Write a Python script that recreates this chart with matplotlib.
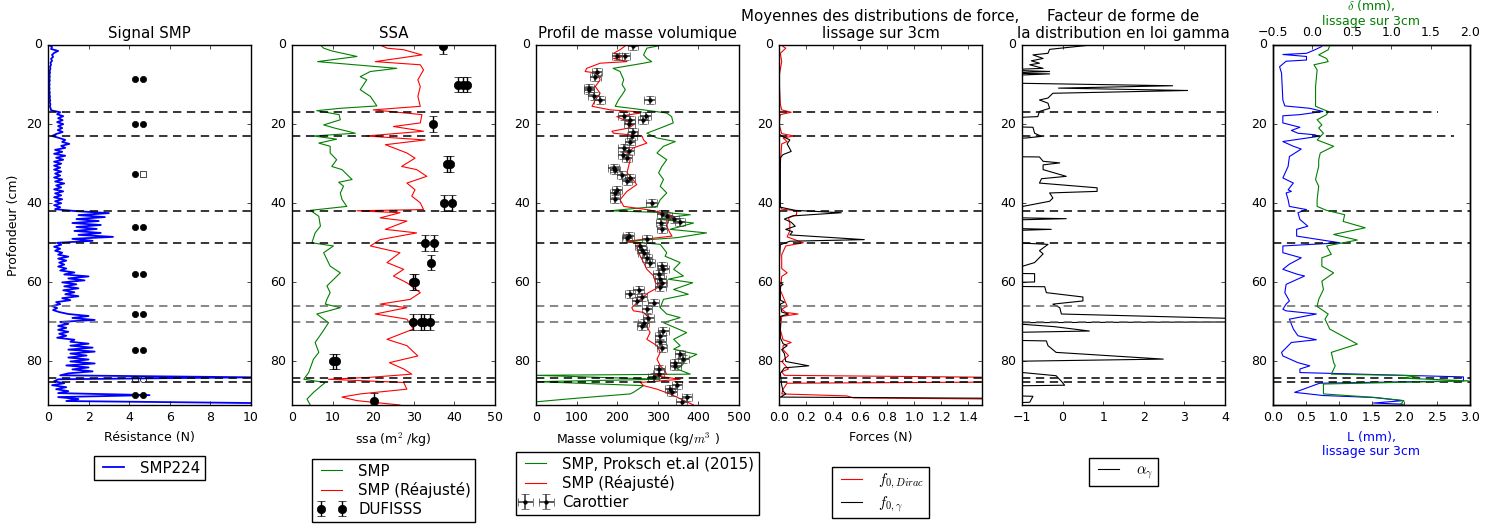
import matplotlib
matplotlib.use('Agg')
import matplotlib.pyplot as plt
import numpy as np

plt.style.use('classic')
plt.rcParams['figure.facecolor'] = 'white'
plt.rcParams['savefig.facecolor'] = 'white'
plt.rcParams['font.size'] = 9
plt.rcParams['lines.linewidth'] = 0.8
plt.rcParams['xtick.major.size'] = 3
plt.rcParams['ytick.major.size'] = 3
plt.rcParams['xtick.minor.size'] = 0
plt.rcParams['ytick.minor.size'] = 0
plt.rcParams['legend.labelspacing'] = 0.25
plt.rcParams['legend.borderpad'] = 0.3
plt.rcParams['legend.borderaxespad'] = 0.0

# ---------------- data ----------------
# layer boundaries (cm)
layers_black = [17, 23, 42, 50, 84.2, 85.2]
layers_grey = [66, 70]

# SMP signal, one value every 0.5 cm from 0 to 90.5 cm
smp_depth = np.arange(0, 91, 0.5)
smp_force = [
    0.05, 0.2, 0.15, 0.5, 0.3, 0.2, 0.25, 0.15, 0.2, 0.12,
    0.15, 0.1, 0.12, 0.08, 0.1, 0.07, 0.09, 0.07, 0.09, 0.06,
    0.08, 0.06, 0.08, 0.06, 0.09, 0.07, 0.1, 0.08, 0.11, 0.08,
    0.12, 0.09, 0.13, 0.15, 0.6, 0.45, 0.75, 0.5, 0.72, 0.45,
    0.75, 0.5, 0.7, 0.48, 0.72, 0.4, 0.2, 0.55, 0.85, 0.7,
    1.05, 0.65, 0.85, 0.35, 0.7, 0.3, 0.85, 0.4, 0.75, 0.3,
    0.65, 0.3, 0.6, 0.3, 0.65, 0.35, 0.6, 0.3, 0.7, 0.35,
    0.8, 0.4, 0.65, 0.3, 0.75, 0.35, 0.65, 0.3, 0.7, 0.35,
    0.65, 0.3, 0.6, 0.35, 1.4, 3.0, 1.5, 2.8, 1.4, 2.5,
    1.2, 2.6, 1.4, 2.4, 1.3, 2.6, 1.5, 3.2, 1.2, 2.2,
    0.45, 0.65, 0.3, 0.6, 0.35, 0.7, 0.5, 1.0, 0.5, 0.9,
    0.55, 0.8, 0.5, 0.9, 0.6, 1.3, 0.8, 2.0, 1.0, 1.8,
    0.7, 1.4, 0.8, 1.5, 0.75, 1.3, 0.85, 1.5, 0.7, 1.1,
    0.4, 0.6, 0.2, 0.45, 0.25, 0.55, 1.0, 2.0, 1.2, 2.3,
    0.6, 1.0, 0.5, 0.9, 0.5, 1.0, 0.55, 0.9, 0.45, 1.3,
    1.1, 2.0, 1.1, 2.2, 1.0, 2.3, 1.1, 1.9, 1.0, 2.0,
    1.1, 2.3, 0.9, 2.0, 1.2, 2.2, 1.0, 0.6, 10.0, 0.5,
    0.3, 0.8, 0.2, 0.9, 0.4, 1.0, 0.5, 5.0, 0.5, 1.5,
    0.9, 10.0]

# symbols drawn in the SMP panel
sym_filled_depth_a = [8.5, 20, 32.5, 46, 58, 68, 77, 88.5]
sym_filled_depth_b = [8.5, 20, 46, 58, 68, 77, 88.5]
sym_square_depth = [32.5]
sym_open_depth = [84.5]
sym_x_a = 4.3
sym_x_b = 4.7

# SSA
ssa_smp_depth = [0, 0.8, 1.5, 2.9, 4.2, 5.9, 6.7, 8.0, 8.8, 11.3,
                 13.0, 15.4, 16.0, 16.6, 17.6, 18.9, 20.2, 21.0, 22.3, 23.0,
                 23.8, 24.8, 25.6, 27.3, 29.0, 30.7, 31.5, 34.0, 34.7, 35.7,
                 37.4, 39.0, 40.8, 41.8, 43.3, 45.8, 47.5, 50.0, 50.8, 52.5,
                 55.9, 57.6, 60.9, 62.6, 64.3, 65.5, 66.4, 68.0, 70.2, 72.7,
                 75.2, 77.7, 79.4, 82.8, 84.5, 85.3, 87.8, 89.5, 91]
ssa_smp = [7.0, 7.8, 9.8, 16.0, 6.3, 25.8, 19.3, 16.8, 18.4, 16.8,
           19.3, 20.9, 11.9, 6.1, 11.6, 11.9, 7.8, 10.5, 15.6, 5.3,
           11.0, 6.6, 9.4, 9.4, 11.0, 9.8, 12.3, 14.8, 11.5, 12.7,
           11.9, 12.3, 13.5, 4.5, 6.6, 7.0, 5.7, 4.9, 10.2, 7.8,
           9.4, 11.9, 8.6, 9.4, 8.6, 8.2, 11.9, 6.1, 9.0, 7.4,
           5.7, 6.6, 5.3, 4.1, 2.9, 8.2, 5.3, 3.7, 4.5]
ssa_adj_depth = [0, 0.8, 1.2, 2.5, 4.2, 5.0, 6.3, 8.8, 10.5, 13.0,
                 15.5, 16.4, 17.6, 19.7, 20.6, 21.8, 23.0, 24.0, 25.2, 27.3,
                 28.6, 30.7, 31.5, 33.2, 34.9, 36.6, 38.2, 39.9, 41.6, 41.9,
                 42.4, 43.7, 44.5, 46.6, 47.5, 49.2, 50.8, 52.5, 55.0, 56.7,
                 58.4, 60.1, 62.6, 64.3, 65.5, 66.4, 68.0, 69.3, 71.8, 74.4,
                 76.0, 78.6, 80.3, 81.9, 83.2, 84.0, 84.5, 85.3, 87.0, 88.2,
                 89.0, 89.9, 91]
ssa_adj = [21.7, 23.4, 27.5, 32.0, 20.5, 31.6, 32.4, 31.0, 31.6, 31.0,
           31.6, 20.0, 32.0, 31.6, 25.0, 32.4, 18.3, 32.8, 23.0, 28.3,
           30.3, 27.0, 30.7, 33.2, 28.3, 30.3, 29.5, 31.6, 32.4, 16.0,
           26.6, 21.7, 28.3, 23.0, 30.7, 21.7, 19.3, 26.6, 23.4, 27.5,
           25.0, 28.3, 31.6, 29.1, 21.7, 28.3, 20.5, 28.3, 29.9, 23.4,
           28.3, 31.0, 24.0, 27.5, 29.5, 19.3, 9.0, 27.5, 28.3, 16.8,
           12.3, 16.0, 26.6]
dufisss_depth = [0.3, 10, 10, 10, 20, 30, 30, 40, 40, 50, 50, 55,
                 60, 60, 70, 70, 70, 70, 80, 80, 90]
dufisss_ssa = [37.1, 41.0, 42.0, 43.0, 34.8, 38.2, 38.8, 37.5, 39.4, 32.8, 35.0, 34.3,
               29.8, 30.2, 29.7, 31.8, 32.4, 34.0, 10.2, 10.9, 20.1]
dufisss_err = 2.0

# density
rho_smp_depth = [0.2, 0.8, 2.5, 3.4, 4.2, 4.6, 5.9, 6.7, 8.8, 10.0,
                 11.3, 12.6, 13.9, 15.5, 16.4, 17.2, 18.1, 19.7, 21.0, 22.3,
                 23.5, 24.4, 25.6, 27.3, 29.0, 30.7, 32.3, 34.0, 35.7, 37.4,
                 39.1, 40.8, 41.9, 42.4, 42.9, 44.0, 45.0, 46.6, 47.5, 48.7,
                 49.6, 50.4, 52.5, 53.4, 55.0, 56.7, 58.4, 59.2, 60.1, 61.8,
                 63.0, 64.3, 66.4, 68.0, 68.9, 70.2, 72.7, 74.4, 76.0, 76.9,
                 78.2, 79.4, 81.1, 81.9, 83.2, 83.5, 84.5, 85.1, 86.1, 87.8,
                 88.2, 88.8, 89.5, 90.2, 91]
rho_smp = [302, 273, 265, 273, 285, 265, 190, 207, 216, 212,
           220, 212, 203, 195, 265, 322, 334, 338, 306, 273,
           298, 343, 314, 298, 322, 310, 302, 314, 306, 322,
           306, 298, 183, 322, 380, 298, 388, 330, 420, 347,
           224, 306, 322, 318, 355, 339, 363, 326, 386, 339,
           375, 314, 306, 322, 355, 314, 371, 339, 355, 339,
           396, 371, 359, 347, 380, 0, 306, 0, 265, 240,
           232, 158, 76, 0, 0]
rho_adj_depth = [0.2, 1.2, 2.1, 2.9, 3.4, 4.2, 4.6, 5.9, 6.7, 7.1,
                 8.8, 10.5, 12.2, 13.9, 15.5, 16.4, 16.8, 17.2, 18.1, 19.3,
                 20.2, 21.0, 21.8, 22.3, 23.0, 24.0, 24.8, 26.0, 27.3, 29.0,
                 30.7, 32.3, 33.6, 35.3, 37.0, 39.1, 40.8, 41.6, 42.4, 43.3,
                 44.1, 45.8, 47.5, 48.3, 49.6, 50.4, 51.3, 53.4, 55.0, 56.7,
                 58.4, 60.1, 61.0, 62.6, 64.3, 66.4, 67.2, 67.6, 69.3, 71.0,
                 72.7, 74.4, 76.0, 77.7, 79.4, 81.1, 81.9, 83.2, 83.6, 84.5,
                 84.9, 85.3, 86.1, 87.0, 88.2, 91]
rho_adj = [220, 207, 191, 216, 191, 224, 158, 125, 121, 150,
           158, 146, 158, 146, 138, 183, 240, 257, 199, 224,
           240, 228, 187, 191, 261, 265, 273, 240, 224, 232,
           228, 224, 236, 248, 224, 207, 216, 273, 314, 339,
           326, 322, 330, 335, 224, 257, 248, 257, 265, 273,
           290, 294, 306, 277, 257, 236, 240, 265, 281, 273,
           281, 273, 298, 306, 298, 306, 314, 322, 294, 355,
           306, 257, 265, 298, 330, 388]
carot_depth = [0.3, 2.9, 2.9, 6.7, 8.2, 10.9, 11.3, 13.0, 14.0, 13.9,
               17.9, 17.9, 18.9, 18.9, 19.9, 22.1, 23.1, 24.4, 26.0, 26.9,
               27.7, 28.6, 31.1, 31.7, 32.8, 33.6, 34.5, 36.6, 37.4, 38.9,
               39.9, 42.7, 43.1, 44.1, 44.8, 45.1, 46.5, 48.3, 48.7, 49.0,
               50.8, 51.7, 52.7, 53.8, 55.0, 55.9, 56.7, 58.0, 59.1, 60.1,
               61.1, 61.9, 63.0, 63.6, 64.7, 65.1, 66.8, 68.9, 70.2, 71.0,
               72.3, 73.5, 75.2, 76.5, 78.2, 79.4, 80.3, 81.1, 81.9, 83.2,
               84.0, 86.0, 87.0, 87.8, 89.1, 90.3]
carot_rho = [239, 199, 218, 150, 146, 130, 130, 142, 157, 280,
             216, 270, 263, 232, 230, 239, 236, 232, 216, 228,
             214, 224, 191, 195, 212, 232, 224, 199, 195, 195,
             285, 310, 322, 339, 355, 308, 310, 228, 224, 273,
             257, 261, 265, 273, 281, 310, 314, 302, 306, 310,
             306, 253, 232, 261, 249, 290, 273, 277, 265, 261,
             314, 306, 306, 310, 355, 363, 343, 343, 304, 302,
             290, 347, 330, 335, 372, 359]
carot_rho_err = 13
carot_depth_err = 1

# mean forces
f_dirac_depth = [0, 0.4, 0.8, 2.1, 4.2, 8, 15, 16.4, 17.0, 17.6,
                 20, 22.4, 23.0, 23.5, 24.4, 25.0, 30, 40, 41.5, 41.9,
                 42.9, 43.7, 45.0, 47.0, 48.5, 50.0, 50.8, 53, 56.5, 57.6,
                 58.5, 62, 66.0, 66.8, 67.6, 68.0, 68.6, 72, 74.5, 75.2,
                 76.0, 77.0, 78.5, 80, 81.9, 82.6, 83.5, 84.0, 85.2, 85.5,
                 87, 88.2, 88.7, 89.2, 89.5, 91]
f_dirac = [0.02, 0.03, 0.05, 0.01, 0.02, 0.0, 0.01, 0.02, 0.09, 0.01,
           0.0, 0.02, 0.11, 0.03, 0.06, 0.02, 0.01, 0.0, 0.02, 0.13,
           0.13, 0.07, 0.08, 0.08, 0.06, 0.18, 0.05, 0.02, 0.02, 0.06,
           0.02, 0.01, 0.06, 0.02, 0.05, 0.14, 0.02, 0.01, 0.03, 0.09,
           0.03, 0.03, 0.07, 0.02, 0.07, 0.02, 0.04, 1.6, 1.6, 0.06,
           0.03, 0.02, 0.5, 0.55, 1.6, 1.6]
f_gamma_depth = [0, 10, 22.5, 23.0, 24.0, 25.0, 25.6, 26.9, 27.7, 28.5,
                 41.0, 41.8, 42.4, 43.2, 44.0, 44.8, 45.8, 46.6, 47.2, 48.0,
                 49.2, 49.6, 50.5, 56, 60.0, 60.5, 61, 64.5, 65, 65.5,
                 67.5, 68.0, 68.6, 74, 75.5, 76, 77.0, 78, 80.0, 81.1,
                 81.6, 83, 86, 87.5, 88.2, 89.0, 89.3, 90.6, 91]
f_gamma = [0.0, 0.0, 0.0, 0.02, 0.08, 0.06, 0.07, 0.09, 0.03, 0.01,
           0.01, 0.12, 0.46, 0.1, 0.04, 0.09, 0.12, 0.05, 0.1, 0.08,
           0.63, 0.08, 0.01, 0.0, 0.0, 0.03, 0.01, 0.01, 0.04, 0.01,
           0.02, 0.07, 0.01, 0.01, 0.03, 0.06, 0.02, 0.04, 0.05, 0.22,
           0.04, 0.01, 0.02, 0.03, 0.05, 0.01, 1.6, 1.6, 1.6]

# gamma shape factor (values below -1 fall outside the axis)
alpha_depth = [0.0, 1.1, 2.1, 2.5, 3.4, 4.0, 4.6, 5.0, 5.9, 6.3,
               6.7, 7.1, 7.3, 7.8, 9.6, 10.3, 10.9, 11.5, 12.2, 13.4,
               13.9, 14.7, 16.0, 16.8, 18.1, 18.5, 20.6, 20.8, 22.3, 23.1,
               23.5, 23.8, 28.2, 28.3, 29.4, 29.8, 30.3, 31.5, 33.2, 33.8,
               34.9, 36.1, 37.0, 37.4, 38.0, 38.7, 39.5, 40.8, 41.0, 43.6,
               43.9, 44.3, 46.3, 46.6, 47.0, 49.8, 50.4, 52.0, 52.8, 55.0,
               55.9, 56.1, 57.7, 57.8, 59.9, 60.1, 61.0, 61.1, 62.6, 63.7,
               64.7, 65.5, 66.4, 68.0, 69.2, 70.0, 70.2, 71.2, 72.3, 72.7,
               74.6, 74.8, 76.0, 77.7, 79.4, 80.0, 82.7, 82.8, 83.6, 85.0,
               86.0, 86.2, 88.6, 88.8, 90.3, 90.6, 91]
alpha_g = [0.7, -0.32, -0.36, -0.73, -0.48, -0.77, -0.57, -0.81, -0.48, -1.5,
           -0.32, -1.5, -0.32, -1.5, -1.5, 2.71, -0.1, 3.08, -0.24, -0.36,
           -0.57, -0.36, -0.32, -0.57, -0.61, -1.5, -1.5, -0.73, -0.69, -0.52,
           -0.89, -1.5, -1.5, -0.57, -0.48, -0.07, -0.48, -0.48, 0.09, -0.52,
           -0.57, 0.85, 0.85, -0.32, -0.28, -0.24, -0.32, -0.98, -1.5, -1.5,
           0.09, -1.5, -1.5, -0.28, -1.5, -1.5, -0.36, -0.57, -0.48, -0.69,
           -0.98, -1.5, -1.5, -0.69, -0.69, -1.5, -1.5, -0.44, -0.4, 0.5,
           0.5, -0.24, -0.07, -0.03, 4.5, 4.5, -1.5, -0.2, 0.66, -1.5,
           -1.5, -0.4, -0.36, -0.16, 2.48, -1.5, -1.5, -0.98, -0.16, -0.03,
           0.05, -1.5, -1.5, -0.73, -0.81, -1.5, -1.5]

# L and delta
L_depth = [0.4, 1.2, 2.1, 2.4, 2.9, 3.8, 4.1, 5.5, 7.1, 10.5,
           13.9, 15.4, 16.0, 16.8, 17.6, 17.9, 19.7, 20.8, 21.6, 22.3,
           22.7, 23.1, 24.4, 25.6, 26.3, 28.2, 30.7, 33.6, 34.9, 36.6,
           37.0, 37.4, 39.1, 40.8, 41.6, 42.4, 44.1, 45.8, 46.6, 48.3,
           50.0, 50.8, 52.5, 53.8, 55.4, 56.7, 57.9, 58.4, 60.5, 62.6,
           64.7, 65.5, 66.8, 67.2, 68.0, 69.3, 71.8, 73.5, 74.5, 75.2,
           77.7, 78.6, 80.3, 81.1, 81.9, 82.8, 83.9, 84.9, 85.5, 87.8,
           88.6, 89.1, 89.9, 90.5, 90.8]
L_mm = [0.74, 0.64, 0.51, 0.15, 0.51, 0.51, 0.2, 0.1, 0.13, 0.14,
        0.15, 0.18, 0.56, 0.76, 0.41, 0.15, 0.15, 0.41, 0.28, 0.38,
        0.64, 0.69, 0.15, 0.31, 0.43, 0.25, 0.23, 0.15, 0.31, 0.23,
        0.28, 0.2, 0.23, 0.25, 0.51, 0.38, 0.41, 0.53, 0.36, 0.36,
        1.02, 0.15, 0.15, 0.43, 0.25, 0.15, 0.36, 0.48, 0.2, 0.18,
        0.25, 0.2, 0.15, 0.2, 0.66, 0.25, 0.31, 0.38, 0.66, 0.28,
        0.13, 0.15, 0.38, 0.56, 0.41, 0.41, 2.9, 2.9, 0.71, 0.33,
        0.76, 1.53, 1.98, 1.53, 1.98]
delta_depth = [0.2, 1.2, 2.5, 3.4, 4.2, 5.0, 6.3, 10.5, 13.9, 15.5,
               16.8, 17.6, 18.9, 20.2, 21.0, 22.3, 24.0, 25.6, 27.3, 29.0,
               30.7, 32.3, 34.0, 35.7, 39.1, 40.8, 41.8, 42.9, 44.6, 46.2,
               47.9, 49.3, 50.8, 52.9, 53.8, 55.9, 57.6, 59.7, 61.8, 64.3,
               66.1, 68.0, 69.3, 71.8, 75.6, 77.7, 80.3, 81.1, 83.2, 83.6,
               84.2, 84.9, 85.7, 88.2, 89.1, 89.9, 90.8]
delta_mm = [0.22, 0.2, 0.08, 0.18, 0.2, 0.02, 0.06, 0.04, 0.04, 0.04,
            0.2, 0.18, 0.06, 0.12, 0.08, 0.14, 0.06, 0.27, 0.1, 0.08,
            0.08, 0.06, 0.04, 0.08, 0.06, 0.06, 0.18, 0.41, 0.39, 0.67,
            0.27, 0.57, 0.18, 0.24, 0.12, 0.12, 0.27, 0.12, 0.14, 0.08,
            0.06, 0.2, 0.16, 0.22, 0.57, 0.24, 0.27, 0.29, 0.24, 1.35,
            1.12, 1.98, 0.14, 0.14, 0.8, 1.16, 1.12]
delta_short_lines = [(17, 1.6), (23, 1.8)]

# ---------------- figure ----------------
fig = plt.figure(figsize=(14.9, 5.28), dpi=100)
W, H = 1490.0, 528.0
bottom = 1 - 405 / H
height = 360 / H
width = 203 / W
lefts = [48, 292, 536, 779, 1022]
axes = [fig.add_axes([l / W, bottom, width, height]) for l in lefts]
ax6 = fig.add_axes([1273 / W, bottom, 197 / W, height])
axes.append(ax6)

yticks = [0, 20, 40, 60, 80]
dash = (6, 4)


def layer_lines(ax, skip=()):
    for d in layers_black:
        if d in skip:
            continue
        ax.axhline(d, color='k', ls='--', lw=1.1, dashes=dash)
    for d in layers_grey:
        ax.axhline(d, color='0.4', ls='--', lw=1.1, dashes=dash)


for ax in axes:
    ax.set_ylim(91, 0)
    ax.set_yticks(yticks)

# 1 - SMP signal
ax1 = axes[0]
ax1.plot(smp_force, smp_depth, color='b', lw=1.3, label='SMP224')
ax1.plot([sym_x_a] * len(sym_filled_depth_a), sym_filled_depth_a, 'ko', ms=4.5, ls='none')
ax1.plot([sym_x_b] * len(sym_filled_depth_b), sym_filled_depth_b, 'ko', ms=4.5, ls='none')
ax1.plot([sym_x_b] * len(sym_square_depth), sym_square_depth, 's', mfc='w', mec='k', ms=4.5, ls='none')
ax1.plot([sym_x_a, sym_x_b], sym_open_depth * 2, 'o', mfc='none', mec='k', ms=4.5, ls='none')
layer_lines(ax1)
ax1.set_xlim(0, 10)
ax1.set_title('Signal SMP', fontsize=10.8)
ax1.set_xlabel('Résistance (N)')
ax1.set_ylabel('Profondeur (cm)')
ax1.legend(loc='upper center', bbox_to_anchor=(0.5, -0.142), numpoints=2)

# 2 - SSA
ax2 = axes[1]
ax2.plot(ssa_smp, ssa_smp_depth, color='g', label='SMP')
ax2.plot(ssa_adj, ssa_adj_depth, color='r', label='SMP (Réajusté)')
ax2.errorbar(dufisss_ssa, dufisss_depth, yerr=dufisss_err, fmt='ko', ms=6,
             ecolor='k', capsize=3, elinewidth=1, label='DUFISSS')
layer_lines(ax2)
ax2.set_xlim(0, 50)
ax2.set_title('SSA', fontsize=10.8)
ax2.set_xlabel('ssa (m$^2$ /kg)')
ax2.legend(loc='upper center', bbox_to_anchor=(0.5, -0.15), numpoints=2)

# 3 - density
ax3 = axes[2]
ax3.plot(rho_smp, rho_smp_depth, color='g', label='SMP, Proksch et.al (2015)')
ax3.plot(rho_adj, rho_adj_depth, color='r', label='SMP (Réajusté)')
ax3.errorbar(carot_rho, carot_depth, xerr=carot_rho_err, yerr=carot_depth_err,
             fmt='k.', ms=5, ecolor='0.25', capsize=3, elinewidth=1.2, label='Carottier')
layer_lines(ax3)
ax3.set_xlim(0, 500)
ax3.set_title('Profil de masse volumique', fontsize=10.8)
ax3.set_xlabel('Masse volumique (kg/$m^3$ )')
ax3.legend(loc='upper center', bbox_to_anchor=(0.5, -0.131), numpoints=2)

# 4 - mean forces
ax4 = axes[3]
ax4.plot(f_dirac, f_dirac_depth, color='r', label='$f_{0,Dirac}$')
ax4.plot(f_gamma, f_gamma_depth, color='k', label='$f_{0,\\gamma}$')
layer_lines(ax4)
ax4.set_xlim(0, 1.5)
ax4.set_xticks(np.arange(0, 1.41, 0.2))
ax4.set_title('Moyennes des distributions de force,\nlissage sur 3cm', fontsize=10.8)
ax4.set_xlabel('Forces (N)')
ax4.legend(loc='upper center', bbox_to_anchor=(0.5, -0.172), numpoints=2)

# 5 - gamma shape
ax5 = axes[4]
ax5.plot(alpha_g, alpha_depth, color='k', label='$\\alpha_\\gamma$')
layer_lines(ax5)
ax5.set_xlim(-1, 4)
ax5.set_title('Facteur de forme de\nla distribution en loi gamma', fontsize=10.8)
ax5.legend(loc='upper center', bbox_to_anchor=(0.5, -0.147), numpoints=2)

# 6 - L and delta
ax6.plot(L_mm, L_depth, color='b')
ax6.set_xlim(0, 3)
ax6.set_xlabel('L (mm),\nlissage sur 3cm', color='b')
ax6t = ax6.twiny()
ax6t.plot(delta_mm, delta_depth, color='g')
ax6t.set_xlim(-0.5, 2.0)
ax6t.set_ylim(91, 0)
ax6t.set_xlabel('$\\delta$ (mm),\nlissage sur 3cm', color='g', labelpad=1)
for d in layers_black:
    if d in [s[0] for s in delta_short_lines]:
        continue
    ax6.axhline(d, color='k', ls='--', lw=1.1, dashes=dash)
for d in layers_grey:
    ax6.axhline(d, color='0.4', ls='--', lw=1.1, dashes=dash)
for d, x_end in delta_short_lines:
    ax6t.plot([0, x_end], [d, d], color='k', ls='--', lw=1.1, dashes=dash)

fig.savefig('out.png', dpi=100)
